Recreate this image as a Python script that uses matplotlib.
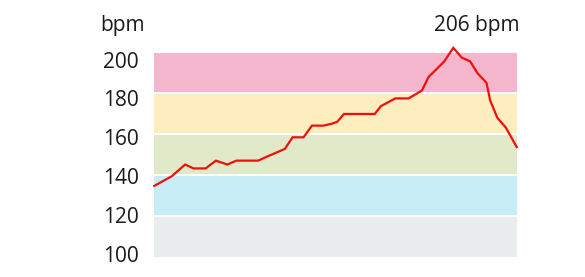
import matplotlib
matplotlib.use("Agg")
import matplotlib.pyplot as plt

plt.rcParams['font.family'] = ['Open Sans', 'DejaVu Sans']

# heart rate over the session (minutes, bpm)
minutes = [0, 2.9, 5.1, 6.5, 8.5, 10.2, 12.1, 13.6, 17.2, 18.6, 21.6, 22.9, 24.7,
           26.1, 28.0, 29.4, 30.3, 31.4, 36.5, 37.5, 39.9, 42.1, 44.3, 45.4, 48.0,
           49.5, 50.9, 52.3, 53.5, 55.0, 55.6, 56.8, 58.2, 60.0]
bpm = [135, 140, 146, 144, 144, 148, 146, 148, 148, 150, 154, 160, 160,
       166, 166, 167, 168, 172, 172, 176, 180, 180, 184, 191, 199,
       206, 201, 199, 193, 188, 179, 170, 165, 155]

# heart-rate zones, bottom to top
zone_edges = [98.6, 119.6, 140.6, 161.7, 182.6, 203.5]
zone_colors = ['#eaedee', '#c8edf7', '#e1eac8', '#fdedbf', '#f4b6cc']
yticks = [100, 120, 140, 160, 180, 200]

fig = plt.figure(figsize=(5.85, 2.77), dpi=100)
ax = fig.add_axes([154.3 / 585, 1 - 256.7 / 277, (516.7 - 154.3) / 585, (256.7 - 52.7) / 277])

gap = 0.5
for i, c in enumerate(zone_colors):
    lo = zone_edges[i] + (gap if i > 0 else 0)
    hi = zone_edges[i + 1] - (gap if i < len(zone_colors) - 1 else 0)
    ax.axhspan(lo, hi, color=c, lw=0, zorder=1)

ax.plot(minutes, bpm, color='#f30d0d', lw=1.6, zorder=3, clip_on=False,
        solid_joinstyle='miter')

ax.set_xlim(0, 60)
ax.set_ylim(zone_edges[0], zone_edges[-1])
ax.set_xticks([])
ax.set_yticks(yticks)
ax.tick_params(axis='y', length=0, pad=11, labelsize=15, labelcolor='#1a1a1a')
for sp in ax.spines.values():
    sp.set_visible(False)

ax.text(-0.026, 1.106, 'bpm', transform=ax.transAxes, ha='right', va='baseline',
        fontsize=15, color='#1a1a1a')
peak = max(bpm)
ax.text(1.009, 1.106, f'{peak} bpm', transform=ax.transAxes, ha='right', va='baseline',
        fontsize=15, color='#1a1a1a')

fig.savefig('out.png', dpi=100)
